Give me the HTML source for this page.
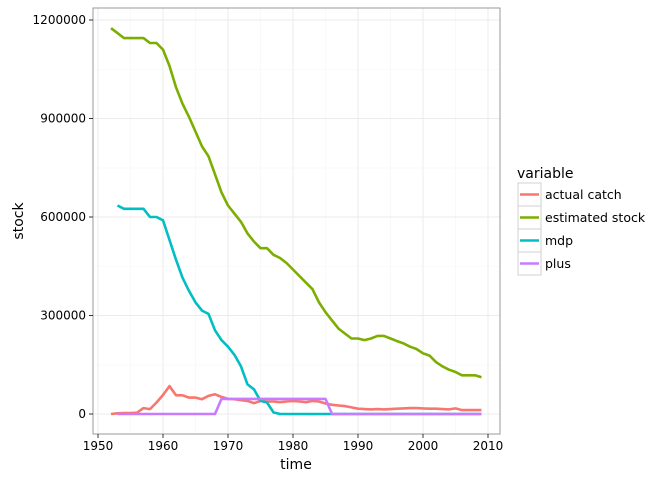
<!DOCTYPE html>
<html><head><meta charset="utf-8"><style>
body{margin:0;background:#fff;}
svg text{font-family:"DejaVu Sans","Liberation Sans",sans-serif;}
</style></head><body>
<svg id="chart" width="672" height="480" xmlns="http://www.w3.org/2000/svg">
<rect width="672" height="480" fill="#fff"/>
<g id="grid"></g>
<g id="series"></g>
<rect x="93" y="8" width="407" height="426" fill="none" stroke="#999" stroke-width="1"/>
<g id="axes"></g>
<text x="296" y="469" font-size="14" text-anchor="middle">time</text>
<text transform="translate(23,221) rotate(-90)" font-size="14" text-anchor="middle">stock</text>
<g id="legend">
<text x="517" y="178" font-size="14">variable</text>
</g>
</svg>
<script>
const years=[];for(let y=1952;y<=2009;y++)years.push(y);
const actualCatch=[0,2000,3000,3000,4000,18000,15000,35000,58000,85000,57000,57000,50000,50000,45000,55000,60000,52000,46000,45000,42000,40000,33000,40000,38000,38000,36000,38000,40000,38000,36000,40000,38000,32000,28000,26000,24000,20000,16000,15000,14000,15000,14000,15000,16000,17000,18000,18000,17000,16000,16000,15000,14000,17000,12000,12000,12000,12000];
const estimatedStock=[1175000,1160000,1145000,1145000,1145000,1145000,1130000,1130000,1110000,1060000,995000,945000,905000,860000,815000,785000,730000,675000,635000,610000,585000,550000,525000,505000,505000,485000,475000,460000,440000,420000,400000,380000,340000,310000,285000,260000,245000,230000,230000,225000,230000,238000,238000,230000,222000,215000,205000,198000,185000,178000,158000,145000,135000,128000,118000,118000,118000,112000];
const mdp=[null,635000,625000,625000,625000,625000,600000,600000,590000,530000,470000,415000,375000,340000,315000,305000,255000,225000,205000,180000,145000,90000,75000,40000,35000,5000,0,0,0,0,0,0,0,0,0,0,0,0,0,0,0,0,0,0,0,0,0,0,0,0,0,0,0,0,0,0,0,0];
const plus=[null,0,0,0,0,0,0,0,0,0,0,0,0,0,0,0,0,46000,46000,46000,46000,46000,46000,46000,46000,46000,46000,46000,46000,46000,46000,46000,46000,46000,0,0,0,0,0,0,0,0,0,0,0,0,0,0,0,0,0,0,0,0,0,0,0,0];
const xTicks=[1950,1960,1970,1980,1990,2000,2010];
const yTicks=[0,300000,600000,900000,1200000];
const yTickLabels=["0","300000","600000","900000","1200000"];
const seriesNames=["actual catch","estimated stock","mdp","plus"];
const seriesColors=["#F8766D","#7CAE00","#00BFC4","#C77CFF"];
const seriesData=[actualCatch,estimatedStock,mdp,plus];

const NS="http://www.w3.org/2000/svg";
const X=v=>98+(v-1950)*6.5;
const Y=v=>414-v*(394/1200000);
function mk(tag,attrs,parent){const e=document.createElementNS(NS,tag);for(const k in attrs)e.setAttribute(k,attrs[k]);parent.appendChild(e);return e;}
const grid=document.getElementById('grid'),axes=document.getElementById('axes'),ser=document.getElementById('series'),leg=document.getElementById('legend');
for(let i=0;i<xTicks.length;i++){
  const x=X(xTicks[i]);
  const g=mk('line',{x1:x,x2:x,y1:8,y2:434,stroke:'#ebebeb','stroke-width':1},grid);
  
  
  if(i<xTicks.length-1){const m=mk('line',{x1:x+32.5,x2:x+32.5,y1:8,y2:434,stroke:'#f5f5f5','stroke-width':0.6},grid);
  
  }
  const t=mk('line',{x1:x,x2:x,y1:434,y2:438,stroke:'#333'},axes);
  
  
  const l=mk('text',{x:x,y:450,'font-size':12,'text-anchor':'middle',fill:'#000'},axes);l.textContent=xTicks[i];
  
  
}
for(let i=0;i<yTicks.length;i++){
  const y=Y(yTicks[i]);
  const g=mk('line',{x1:93,x2:500,y1:y,y2:y,stroke:'#ebebeb','stroke-width':1},grid);
  
  
  if(i<yTicks.length-1){const m=mk('line',{x1:93,x2:500,y1:y-49,y2:y-49,stroke:'#f5f5f5','stroke-width':0.6},grid);
  
  }
  const t=mk('line',{x1:89,x2:93,y1:y,y2:y,stroke:'#333'},axes);
  
  
  const l=mk('text',{x:86,y:y+4,'font-size':12,'text-anchor':'end',fill:'#000'},axes);l.textContent=yTickLabels[i];
  
  
}
for(let s=0;s<seriesData.length;s++){
  let d='';let started=false;
  seriesData[s].forEach((v,i)=>{if(v===null)return;d+=(started?'L':'M')+X(years[i]).toFixed(1)+','+Y(v).toFixed(1);started=true;});
  const p=mk('path',{d:d,fill:'none',stroke:seriesColors[s],'stroke-width':2.6,'stroke-linejoin':'round'},ser);
  
  
  const ky=183+s*23;
  const r=mk('rect',{x:518,y:ky,width:23,height:23,fill:'#fff',stroke:'#d0d0d0'},leg);
  
  
  const ln=mk('line',{x1:520,x2:539,y1:ky+11.5,y2:ky+11.5,stroke:seriesColors[s],'stroke-width':2.6},leg);
  
  
  const t=mk('text',{x:545,y:ky+16,'font-size':12.5},leg);t.textContent=seriesNames[s];
  
  
}
</script>
</body></html>
